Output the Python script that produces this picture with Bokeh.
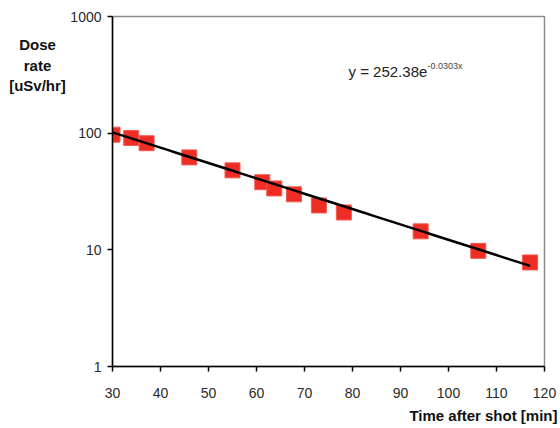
from bokeh.plotting import figure
from bokeh.layouts import row
from bokeh.models import Range1d, FixedTicker, Label, Title, CustomJSTickFormatter
from bokeh.embed import file_html
from bokeh.resources import INLINE
import numpy as np

# Data
time_min = [30, 33.9, 37.1, 46, 55, 61.2, 63.7, 67.8, 73, 78.2, 94.2, 106.2, 117]
dose_rate = [97, 91, 82, 62, 48, 38, 33.6, 29.9, 24, 20.9, 14.4, 9.8, 7.8]
fit_a = 252.38
fit_b = -0.0303
x_ticks = [30, 40, 50, 60, 70, 80, 90, 100, 110, 120]
y_ticks = [1, 10, 100, 1000]
y_title = ["Dose", "rate", "[uSv/hr]"]
x_title = "Time after shot [min]"
equation = "y = 252.38e"
equation_exp = "-0.0303x"

FONT = "Liberation Sans"

# left strip holding the y title (frame 16..366 vertically, like the main plot)
left = figure(width=66, height=428, x_range=Range1d(0, 1), y_range=Range1d(0, 1),
              output_backend="svg", toolbar_location=None,
              x_axis_location=None, y_axis_location=None,
              min_border_left=0, min_border_right=0,
              min_border_top=16, min_border_bottom=62)
left.xgrid.visible = False
left.ygrid.visible = False
left.outline_line_color = None
for txt, yy in zip(y_title, (322, 301, 281)):
    left.add_layout(Label(x=37, y=yy, x_units="screen", y_units="screen", text=txt,
                          text_font=FONT, text_font_style="bold", text_font_size="15px",
                          text_align="center", text_baseline="middle", text_color="#111111"))

# main plot
p = figure(width=494, height=428, y_axis_type="log",
           x_range=Range1d(30, 120), y_range=Range1d(1, 1000),
           output_backend="svg", toolbar_location=None,
           min_border_left=46, min_border_right=16, min_border_top=16,
           min_border_bottom=62)
p.xgrid.visible = False
p.ygrid.visible = False
p.outline_line_color = "#8c8c8c"
p.outline_line_width = 1.5

for ax in (p.xaxis[0], p.yaxis[0]):
    ax.axis_line_color = "black"
    ax.axis_line_width = 1.5
    ax.major_tick_line_color = "black"
    ax.major_tick_line_width = 1.5
    ax.major_tick_out = 5
    ax.major_tick_in = 0
    ax.minor_tick_line_color = None
    ax.major_label_text_font = FONT
    ax.major_label_text_font_size = "14px"
    ax.major_label_text_color = "#2a2a2a"

p.xaxis.ticker = FixedTicker(ticks=x_ticks)
p.yaxis.ticker = FixedTicker(ticks=y_ticks, minor_ticks=[])
p.yaxis.formatter = CustomJSTickFormatter(code="return tick.toFixed(0);")
p.yaxis.major_label_standoff = 6
p.xaxis.major_label_standoff = 16

# trendline from the fit
xs = np.linspace(min(time_min), max(time_min), 60)
ys = fit_a * np.exp(fit_b * xs)
p.scatter(time_min, dose_rate, marker="square", size=15,
          fill_color="#EE2E24", line_color="#F05A50", line_width=1)
p.line(xs, ys, line_color="black", line_width=2.5)

p.add_layout(Label(x=236, y=295, x_units="screen", y_units="screen",
                   text=equation, text_font=FONT, text_font_size="15px",
                   text_baseline="middle", text_color="#222222"))
p.add_layout(Label(x=315, y=301, x_units="screen", y_units="screen",
                   text=equation_exp, text_font=FONT, text_font_size="9px",
                   text_baseline="middle", text_color="#444444"))

p.add_layout(Title(text=x_title, align="right", offset=-13, standoff=8,
                   text_font=FONT, text_font_style="bold", text_font_size="15px",
                   text_color="#111111"), "below")

layout = row(left, p, spacing=0)

open("out.html", "w").write(file_html(layout, INLINE))
